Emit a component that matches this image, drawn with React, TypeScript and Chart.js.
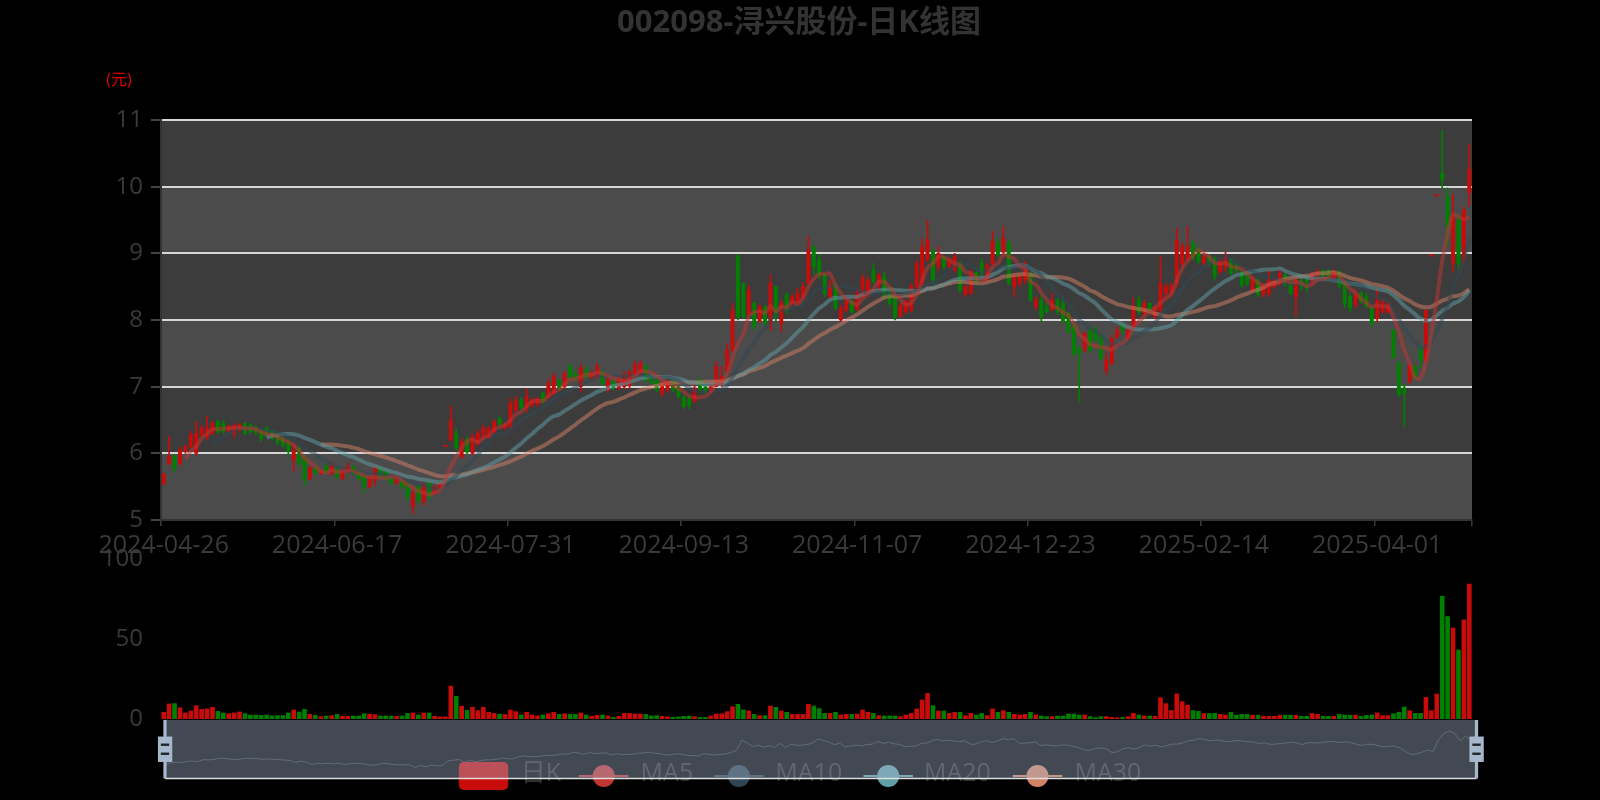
import React, { useEffect, useRef } from "react";
import { Chart, registerables } from "chart.js";

Chart.register(...registerables);

// ---------------- DATA ----------------
const dates: string[] = [
  "2024-04-26","2024-04-29","2024-04-30",
  "2024-05-06","2024-05-07","2024-05-08","2024-05-09","2024-05-10","2024-05-13","2024-05-14","2024-05-15","2024-05-16","2024-05-17",
  "2024-05-20","2024-05-21","2024-05-22","2024-05-23","2024-05-24","2024-05-27","2024-05-28","2024-05-29","2024-05-30","2024-05-31",
  "2024-06-03","2024-06-04","2024-06-05","2024-06-06","2024-06-07","2024-06-11","2024-06-12","2024-06-13","2024-06-14","2024-06-17",
  "2024-06-18","2024-06-19","2024-06-20","2024-06-21","2024-06-24","2024-06-25","2024-06-26","2024-06-27","2024-06-28",
  "2024-07-01","2024-07-02","2024-07-03","2024-07-04","2024-07-05","2024-07-08","2024-07-09","2024-07-10","2024-07-11","2024-07-12",
  "2024-07-15","2024-07-16","2024-07-17","2024-07-18","2024-07-19","2024-07-22","2024-07-23","2024-07-24","2024-07-25","2024-07-26",
  "2024-07-29","2024-07-30","2024-07-31",
  "2024-08-01","2024-08-02","2024-08-05","2024-08-06","2024-08-07","2024-08-08","2024-08-09","2024-08-12","2024-08-13","2024-08-14",
  "2024-08-15","2024-08-16","2024-08-19","2024-08-20","2024-08-21","2024-08-22","2024-08-23","2024-08-26","2024-08-27","2024-08-28",
  "2024-08-29","2024-08-30",
  "2024-09-02","2024-09-03","2024-09-04","2024-09-05","2024-09-06","2024-09-09","2024-09-10","2024-09-11","2024-09-12","2024-09-13",
  "2024-09-18","2024-09-19","2024-09-20","2024-09-23","2024-09-24","2024-09-25","2024-09-26","2024-09-27","2024-09-30",
  "2024-10-08","2024-10-09","2024-10-10","2024-10-11","2024-10-14","2024-10-15","2024-10-16","2024-10-17","2024-10-18","2024-10-21",
  "2024-10-22","2024-10-23","2024-10-24","2024-10-25","2024-10-28","2024-10-29","2024-10-30","2024-10-31",
  "2024-11-01","2024-11-04","2024-11-05","2024-11-06","2024-11-07","2024-11-08","2024-11-11","2024-11-12","2024-11-13","2024-11-14",
  "2024-11-15","2024-11-18","2024-11-19","2024-11-20","2024-11-21","2024-11-22","2024-11-25","2024-11-26","2024-11-27","2024-11-28",
  "2024-11-29",
  "2024-12-02","2024-12-03","2024-12-04","2024-12-05","2024-12-06","2024-12-09","2024-12-10","2024-12-11","2024-12-12","2024-12-13",
  "2024-12-16","2024-12-17","2024-12-18","2024-12-19","2024-12-20","2024-12-23","2024-12-24","2024-12-25","2024-12-26","2024-12-27",
  "2024-12-30","2024-12-31",
  "2025-01-02","2025-01-03","2025-01-06","2025-01-07","2025-01-08","2025-01-09","2025-01-10","2025-01-13","2025-01-14","2025-01-15",
  "2025-01-16","2025-01-17","2025-01-20","2025-01-21","2025-01-22","2025-01-23","2025-01-24","2025-01-27",
  "2025-02-05","2025-02-06","2025-02-07","2025-02-10","2025-02-11","2025-02-12","2025-02-13","2025-02-14","2025-02-17","2025-02-18",
  "2025-02-19","2025-02-20","2025-02-21","2025-02-24","2025-02-25","2025-02-26","2025-02-27","2025-02-28",
  "2025-03-03","2025-03-04","2025-03-05","2025-03-06","2025-03-07","2025-03-10","2025-03-11","2025-03-12","2025-03-13","2025-03-14",
  "2025-03-17","2025-03-18","2025-03-19","2025-03-20","2025-03-21","2025-03-24","2025-03-25","2025-03-26","2025-03-27","2025-03-28",
  "2025-03-31",
  "2025-04-01","2025-04-02","2025-04-03","2025-04-07","2025-04-08","2025-04-09","2025-04-10","2025-04-11","2025-04-14","2025-04-15",
  "2025-04-16","2025-04-17","2025-04-18","2025-04-21","2025-04-22","2025-04-23","2025-04-24","2025-04-25",
];

const opens: number[] = [
  5.55,5.84,5.96,5.85,6.03,6.10,6.00,6.28,6.25,6.30,
  6.48,6.45,6.33,6.30,6.38,6.45,6.43,6.40,6.33,6.38,
  6.34,6.26,6.23,6.15,5.90,6.08,5.92,5.62,5.78,5.70,
  5.80,5.70,5.78,5.62,5.72,5.80,5.72,5.65,5.50,5.60,
  5.78,5.72,5.62,5.55,5.58,5.55,5.20,5.50,5.28,5.55,
  5.40,5.48,6.10,6.20,6.30,5.95,6.20,6.00,6.15,6.25,
  6.25,6.32,6.52,6.38,6.40,6.65,6.80,6.68,6.72,6.74,
  6.90,6.85,6.90,7.10,7.00,7.30,7.20,7.00,7.25,7.12,
  7.15,7.22,6.95,7.08,6.98,7.00,7.02,7.18,7.20,7.30,
  7.15,7.10,6.90,6.95,7.08,7.00,6.85,6.82,6.78,7.10,
  7.00,6.92,7.00,7.05,7.25,7.55,8.95,8.55,8.08,8.25,
  7.98,8.20,7.95,8.50,7.95,8.38,8.25,8.25,8.35,8.55,
  9.10,8.90,8.68,8.35,8.52,8.00,8.15,8.28,8.15,8.35,
  8.40,8.75,8.52,8.65,8.45,8.35,8.05,8.12,8.15,8.50,
  8.55,8.90,9.05,8.80,8.95,8.80,8.75,8.85,8.38,8.40,
  8.72,8.85,8.60,8.85,9.15,9.02,9.15,8.50,8.55,8.60,
  8.70,8.20,8.30,8.20,8.15,8.30,8.25,8.10,7.90,7.58,
  7.55,7.85,7.85,7.75,7.25,7.35,7.75,7.92,7.72,7.90,
  8.30,8.10,8.25,8.05,8.15,8.40,8.40,8.55,8.85,8.92,
  9.15,9.05,8.85,8.95,8.92,8.72,8.80,8.90,8.82,8.72,
  8.70,8.45,8.60,8.38,8.40,8.50,8.55,8.68,8.55,8.35,
  8.60,8.60,8.55,8.68,8.74,8.74,8.62,8.72,8.58,8.35,
  8.22,8.40,8.35,8.18,8.02,8.12,8.12,7.85,7.36,6.98,
  7.08,7.30,7.58,7.40,8.96,9.86,10.20,9.85,8.85,9.50,
  8.90,9.91,
];

const closes: number[] = [
  5.69,5.95,5.78,6.05,6.10,6.28,6.30,6.38,6.38,6.45,
  6.32,6.33,6.40,6.42,6.44,6.30,6.32,6.32,6.22,6.28,
  6.25,6.16,6.12,6.03,6.05,5.85,5.62,5.78,5.70,5.73,
  5.72,5.82,5.65,5.72,5.79,5.70,5.62,5.50,5.62,5.78,
  5.65,5.62,5.55,5.62,5.50,5.35,5.40,5.30,5.50,5.35,
  5.50,5.55,6.10,6.50,6.08,6.18,6.02,6.25,6.30,6.38,
  6.38,6.48,6.44,6.44,6.75,6.80,6.68,6.85,6.80,6.82,
  6.78,7.05,7.15,6.98,7.20,7.15,7.12,7.28,7.15,7.20,
  7.30,7.05,7.10,6.98,7.12,7.15,7.22,7.33,7.35,7.10,
  7.05,6.95,7.05,7.08,6.95,6.85,6.70,6.72,6.98,6.95,
  6.93,7.02,7.30,7.15,7.55,8.15,8.05,8.05,8.45,7.90,
  8.20,7.95,8.55,8.05,8.25,8.15,8.35,8.40,8.50,9.05,
  8.80,8.68,8.40,8.55,8.18,8.18,8.28,8.12,8.40,8.62,
  8.60,8.58,8.68,8.35,8.25,8.05,8.22,8.28,8.50,8.85,
  9.10,9.20,8.60,9.00,8.80,8.90,8.95,8.45,8.50,8.70,
  8.58,8.70,8.82,9.18,8.98,9.22,8.55,8.65,8.65,8.75,
  8.30,8.30,8.05,8.12,8.30,8.12,7.98,7.82,7.50,7.50,
  7.80,7.55,7.70,7.42,7.40,7.72,7.85,7.85,7.85,8.20,
  8.12,8.25,8.15,8.20,8.55,8.50,8.52,9.20,9.10,9.10,
  8.95,8.88,8.95,8.85,8.65,8.88,8.95,8.70,8.75,8.52,
  8.55,8.60,8.38,8.52,8.60,8.60,8.70,8.55,8.40,8.60,
  8.52,8.48,8.68,8.72,8.66,8.66,8.72,8.52,8.25,8.18,
  8.38,8.28,8.20,7.95,8.30,8.28,8.25,7.43,6.88,6.90,
  7.32,7.15,7.40,8.14,8.96,9.86,10.10,9.40,9.55,8.85,
  9.65,10.26,
];

const lows: number[] = [
  5.52,5.83,5.72,5.82,6.00,6.08,5.98,6.25,6.20,6.28,
  6.30,6.30,6.32,6.23,6.32,6.28,6.30,6.28,6.18,6.25,
  6.20,6.12,6.09,5.98,5.73,5.80,5.52,5.60,5.68,5.68,
  5.70,5.67,5.62,5.60,5.71,5.68,5.60,5.40,5.48,5.52,
  5.62,5.60,5.54,5.54,5.47,5.30,5.10,5.25,5.22,5.30,
  5.38,5.46,6.10,6.18,6.05,5.92,6.00,5.98,6.12,6.20,
  6.22,6.30,6.42,6.35,6.37,6.62,6.65,6.62,6.70,6.70,
  6.75,6.82,6.88,6.95,6.98,7.10,7.10,6.92,7.12,7.10,
  7.12,7.02,6.92,6.95,6.95,6.97,6.97,7.17,7.17,7.08,
  7.05,6.92,6.85,6.92,6.92,6.82,6.67,6.67,6.77,6.90,
  6.90,6.90,7.00,7.00,7.22,7.53,8.00,8.03,8.08,7.85,
  7.98,7.90,7.85,7.98,7.83,8.10,8.22,8.22,8.30,8.53,
  8.68,8.62,8.35,8.32,8.15,7.98,8.12,8.10,8.15,8.32,
  8.35,8.55,8.45,8.32,8.20,8.00,8.05,8.10,8.12,8.48,
  8.52,8.88,8.55,8.75,8.75,8.78,8.72,8.42,8.35,8.38,
  8.55,8.65,8.58,8.82,8.95,9.00,8.52,8.35,8.50,8.55,
  8.28,8.15,7.97,8.10,8.15,8.08,7.95,7.80,7.45,6.76,
  7.52,7.52,7.68,7.40,7.18,7.32,7.72,7.80,7.70,7.88,
  8.08,8.08,8.12,8.02,8.12,8.30,8.35,8.50,8.80,8.88,
  8.90,8.85,8.82,8.80,8.60,8.70,8.73,8.68,8.72,8.50,
  8.52,8.42,8.35,8.35,8.35,8.48,8.52,8.50,8.38,8.06,
  8.45,8.42,8.52,8.65,8.63,8.64,8.60,8.47,8.18,8.12,
  8.18,8.25,8.18,7.90,7.98,8.10,8.10,7.43,6.85,6.40,
  7.05,7.10,7.28,7.36,8.96,9.86,9.98,9.11,8.73,8.76,
  8.86,9.71,
];

const highs: number[] = [
  5.70,6.25,5.98,6.09,6.13,6.33,6.48,6.42,6.55,6.48,
  6.50,6.49,6.43,6.43,6.45,6.46,6.45,6.41,6.35,6.40,
  6.35,6.28,6.25,6.20,6.15,6.10,5.95,5.80,5.80,5.75,
  5.87,5.86,5.80,5.78,5.85,5.82,5.75,5.68,5.65,5.80,
  5.80,5.75,5.63,5.63,5.60,5.58,5.45,5.52,5.55,5.58,
  5.52,5.56,6.10,6.71,6.38,6.22,6.25,6.30,6.35,6.43,
  6.40,6.50,6.56,6.46,6.82,6.85,6.83,6.97,6.83,6.84,
  6.92,7.10,7.20,7.10,7.23,7.35,7.25,7.33,7.30,7.23,
  7.35,7.25,7.13,7.10,7.15,7.23,7.25,7.38,7.39,7.33,
  7.20,7.18,7.07,7.10,7.10,7.00,6.87,6.85,7.02,7.13,
  7.02,7.05,7.38,7.30,7.65,8.25,8.98,8.56,8.52,8.27,
  8.23,8.22,8.68,8.51,8.30,8.41,8.38,8.48,8.56,9.26,
  9.11,8.98,8.70,8.60,8.55,8.22,8.32,8.30,8.46,8.68,
  8.65,8.85,8.70,8.72,8.50,8.38,8.25,8.30,8.55,8.90,
  9.22,9.50,9.05,9.10,8.95,8.92,9.00,8.88,8.52,8.75,
  8.72,8.92,8.85,9.33,9.23,9.40,9.20,8.70,8.70,8.88,
  8.72,8.35,8.38,8.25,8.40,8.33,8.33,8.12,7.95,7.60,
  7.82,7.88,7.90,7.78,7.50,7.77,7.90,7.95,7.90,8.33,
  8.35,8.30,8.25,8.22,8.95,8.55,8.55,9.37,9.16,9.40,
  9.19,9.08,9.00,8.98,8.95,8.92,9.02,8.92,8.85,8.75,
  8.72,8.65,8.62,8.55,8.75,8.62,8.75,8.70,8.58,8.62,
  8.63,8.62,8.72,8.76,8.76,8.76,8.75,8.75,8.60,8.40,
  8.46,8.43,8.40,8.20,8.46,8.32,8.28,7.86,7.38,7.03,
  7.33,7.32,7.60,8.16,8.96,9.86,10.85,9.98,9.88,9.58,
  9.69,10.64,
];

const volumes: number[] = [
  4.2,9.4,9.6,7.0,3.8,5.0,8.3,6.0,6.3,7.3,
  4.8,3.8,3.3,3.8,4.4,3.3,2.5,2.5,2.3,2.5,
  1.9,2.1,2.1,3.8,5.6,4.4,6.0,3.0,2.3,1.5,
  1.9,2.1,2.9,1.7,1.7,1.9,1.9,3.3,3.1,2.7,
  1.9,1.9,1.9,1.7,1.9,3.5,3.8,2.5,3.8,3.8,
  1.7,1.3,1.3,20.6,14.2,8.0,5.4,7.3,5.2,7.3,
  4.2,3.5,3.0,2.8,5.6,4.6,2.5,4.2,2.5,1.9,
  2.5,3.3,4.2,2.9,3.3,2.9,2.9,3.8,2.5,1.7,
  2.3,2.5,1.9,1.0,1.7,3.5,3.5,3.1,3.1,2.9,
  1.9,2.1,1.7,1.3,1.0,1.3,1.7,1.9,1.5,1.0,
  1.0,1.9,3.1,3.3,4.6,7.7,9.2,5.6,5.0,2.9,
  2.1,2.1,8.1,7.3,5.0,4.2,2.9,2.9,2.9,9.2,
  8.1,6.5,3.5,3.5,4.2,2.5,2.9,2.9,3.1,5.6,
  4.2,3.5,2.1,1.9,1.9,1.9,1.5,2.5,3.5,6.3,
  11.9,16.0,8.3,5.0,5.0,3.5,4.2,4.2,2.1,3.5,
  2.5,3.5,2.1,6.3,4.2,5.2,4.2,2.9,2.5,2.9,
  4.2,2.5,1.9,1.5,1.5,1.9,1.9,3.1,3.1,2.5,
  2.5,1.5,0.8,1.5,1.5,1.0,0.8,1.0,1.5,3.5,
  2.5,1.9,1.9,1.7,13.3,9.6,5.3,15.7,10.8,8.7,
  5.3,4.8,3.4,3.4,3.6,2.9,2.4,4.1,2.4,2.9,
  2.9,2.4,2.4,1.7,1.7,1.7,2.4,2.4,2.4,2.4,
  1.7,1.7,3.4,2.9,1.7,1.7,1.7,2.9,2.4,2.4,
  2.4,1.7,2.2,2.5,3.8,2.1,2.1,3.3,4.2,7.5,
  5.2,3.5,3.5,13.5,5.2,15.6,76.7,64.0,56.9,43.1,
  61.9,84.4,
];

const priceTicks: number[] = [5, 6, 7, 8, 9, 10, 11];
const volumeTicks: number[] = [0, 50, 100];
const maPeriods: number[] = [5, 10, 20, 30];
const maLabels: string[] = ["MA5", "MA10", "MA20", "MA30"];
const candleLabel = "日K";
const titleText = "002098-浔兴股份-日K线图";
const unitText = "(元)";
const labelEvery = 32;

// ---------------- STYLE ----------------
const FONT = '"Open Sans", "Noto Sans CJK SC", sans-serif';
const UP = "rgb(200,12,10)";
const DOWN = "rgb(0,128,0)";
const MA_COLORS = ["194,53,49", "47,69,84", "97,160,168", "212,130,101"];
const LABEL_COLOR = "#3a3a3a";

function movingAverage(period: number): (number | null)[] {
  return closes.map((_, i) => {
    if (i < period - 1) return null;
    let s = 0;
    for (let k = i - period + 1; k <= i; k++) s += closes[k];
    return +(s / period).toFixed(3);
  });
}

const candleColors = opens.map((o, i) => (closes[i] >= o ? UP : DOWN));

const mainPlugin = {
  id: "mainDecor",
  beforeDraw(chart: any) {
    const { ctx, chartArea, scales } = chart;
    ctx.save();
    ctx.fillStyle = "#000";
    ctx.fillRect(0, 0, chart.width, chart.height);
    const y = scales.y;
    for (let k = 0; k < priceTicks.length - 1; k++) {
      const top = y.getPixelForValue(priceTicks[k + 1]);
      const bottom = y.getPixelForValue(priceTicks[k]);
      ctx.fillStyle = k % 2 === 0 ? "rgb(75,75,75)" : "rgb(60,60,60)";
      ctx.fillRect(chartArea.left, top, chartArea.right - chartArea.left, bottom - top);
    }
    ctx.restore();
  },
  afterDraw(chart: any) {
    const { ctx } = chart;
    ctx.save();
    ctx.font = `bold 31px ${FONT}`;
    ctx.fillStyle = "#333";
    ctx.textAlign = "center";
    ctx.textBaseline = "middle";
    ctx.fillText(titleText, 799, 23);
    ctx.font = `16px ${FONT}`;
    ctx.fillStyle = "#e00000";
    ctx.fillText(unitText, 119, 80);
    ctx.restore();
  },
};

const SL = { left: 165, right: 1476.5, top: 720, bottom: 778.5 };

function drawHandle(ctx: CanvasRenderingContext2D, cx: number) {
  const s = (SL.bottom - SL.top) / 34.3;
  ctx.fillStyle = "#a7b7cc";
  ctx.fillRect(cx - 0.95 * s, SL.top, 1.9 * s, SL.bottom - SL.top);
  ctx.fillRect(cx - 4.15 * s, SL.top + 9.7 * s, 8.4 * s, 14.9 * s);
  ctx.fillStyle = "#22262c";
  ctx.fillRect(cx - 2.45 * s, SL.top + 13.8 * s, 4.9 * s, 1.4 * s);
  ctx.fillRect(cx - 2.45 * s, SL.top + 19.1 * s, 4.9 * s, 1.4 * s);
}

const legendIconX = [458.8, 579, 714.2, 863.5, 1012.8];
const legendTextX = [520.8, 640.6, 775.3, 924, 1074.4];

const sliderPlugin = {
  id: "sliderDecor",
  beforeDraw(chart: any) {
    const ctx: CanvasRenderingContext2D = chart.ctx;
    ctx.save();
    const cy = 776;
    ctx.fillStyle = UP;
    ctx.beginPath();
    (ctx as any).roundRect(legendIconX[0], cy - 14, 49.4, 28, 5);
    ctx.fill();
    maLabels.forEach((_, k) => {
      const x0 = legendIconX[k + 1];
      ctx.strokeStyle = `rgb(${MA_COLORS[k]})`;
      ctx.lineWidth = 2;
      ctx.beginPath();
      ctx.moveTo(x0, cy);
      ctx.lineTo(x0 + 49.4, cy);
      ctx.stroke();
      ctx.fillStyle = `rgb(${MA_COLORS[k]})`;
      ctx.beginPath();
      ctx.arc(x0 + 24.7, cy, 11, 0, Math.PI * 2);
      ctx.fill();
    });
    ctx.font = `25px ${FONT}`;
    ctx.fillStyle = "#333";
    ctx.textAlign = "left";
    ctx.textBaseline = "middle";
    [candleLabel, ...maLabels].forEach((t, k) => ctx.fillText(t, legendTextX[k], 774));
    ctx.restore();
  },
  beforeDatasetsDraw(chart: any) {
    const ctx: CanvasRenderingContext2D = chart.ctx;
    ctx.save();
    ctx.fillStyle = "rgba(167,183,204,0.4)";
    ctx.fillRect(SL.left, SL.top, SL.right - SL.left, SL.bottom - SL.top);
    ctx.restore();
  },
  afterDraw(chart: any) {
    const ctx: CanvasRenderingContext2D = chart.ctx;
    ctx.save();
    ctx.strokeStyle = "#ddd";
    ctx.lineWidth = 1.5;
    ctx.beginPath();
    ctx.moveTo(SL.left, SL.bottom);
    ctx.lineTo(SL.right, SL.bottom);
    ctx.stroke();
    drawHandle(ctx, SL.left);
    drawHandle(ctx, SL.right);
    ctx.restore();
  },
};

function mainConfig(): any {
  return {
    type: "bar",
    data: {
      labels: dates,
      datasets: [
        {
          type: "bar",
          label: "wick",
          data: lows.map((l, i) => [l, highs[i]]),
          backgroundColor: candleColors,
          barThickness: 1,
          minBarLength: 1,
          grouped: false,
          order: 3,
        },
        {
          type: "bar",
          label: candleLabel,
          data: opens.map((o, i) => [o, closes[i]]),
          backgroundColor: candleColors,
          barThickness: 3.2,
          minBarLength: 1.6,
          grouped: false,
          order: 2,
        },
        ...maPeriods.map((p, k) => ({
          type: "line",
          label: maLabels[k],
          data: movingAverage(p),
          borderColor: `rgba(${MA_COLORS[k]},0.5)`,
          borderWidth: 4,
          pointRadius: 0,
          tension: 0.4,
          fill: false,
          order: 0,
        })),
      ],
    },
    options: {
      responsive: false,
      animation: false,
      events: [],
      layout: { padding: { left: 0, right: 128, top: 120, bottom: 0 } },
      plugins: { legend: { display: false }, tooltip: { enabled: false }, title: { display: false } },
      scales: {
        x: {
          type: "category",
          offset: true,
          grid: {
            offset: true,
            drawOnChartArea: false,
            drawTicks: true,
            tickLength: 6,
            lineWidth: 1.5,
            color: (ctx: any) =>
              ctx.index === undefined || ctx.index % labelEvery === 0 ? "#3a3a3a" : "rgba(0,0,0,0)",
          },
          border: { display: true, color: "#333", width: 2 },
          ticks: {
            autoSkip: false,
            maxRotation: 0,
            minRotation: 0,
            padding: 5,
            color: LABEL_COLOR,
            font: { family: FONT, size: 25 },
            callback: (_v: any, i: number) => (i % labelEvery === 0 ? dates[i] : ""),
          },
          afterFit: (s: any) => {
            s.height = 280;
          },
        },
        y: {
          min: priceTicks[0],
          max: priceTicks[priceTicks.length - 1],
          afterBuildTicks: (s: any) => {
            s.ticks = priceTicks.map((v) => ({ value: v }));
          },
          grid: {
            drawOnChartArea: true,
            lineWidth: 2,
            tickLength: 10,
            color: (ctx: any) => (ctx.tick && ctx.tick.value === priceTicks[0] ? "rgba(0,0,0,0)" : "#d6d6d6"),
            tickColor: "#444",
          },
          border: { display: true, color: "#333", width: 2 },
          ticks: { padding: 8, color: LABEL_COLOR, font: { family: FONT, size: 24 } },
          afterFit: (s: any) => {
            s.width = 161;
          },
        },
      },
    },
    plugins: [mainPlugin],
  };
}

function volumeConfig(): any {
  return {
    type: "bar",
    data: {
      labels: dates,
      datasets: [
        {
          label: "成交量",
          data: volumes,
          backgroundColor: candleColors,
          barThickness: 4,
          borderWidth: 0,
        },
      ],
    },
    options: {
      responsive: false,
      animation: false,
      events: [],
      layout: { padding: { left: 0, right: 128, top: 559, bottom: 81 } },
      plugins: { legend: { display: false }, tooltip: { enabled: false } },
      scales: {
        x: { display: false, offset: true },
        y: {
          min: volumeTicks[0],
          max: volumeTicks[volumeTicks.length - 1],
          afterBuildTicks: (s: any) => {
            s.ticks = volumeTicks.map((v) => ({ value: v }));
          },
          grid: { display: false, drawTicks: false },
          border: { display: false },
          ticks: { padding: 18, color: LABEL_COLOR, font: { family: FONT, size: 24 } },
          afterFit: (s: any) => {
            s.width = 161;
          },
        },
      },
    },
  };
}

function sliderConfig(): any {
  const lo = Math.min(...opens);
  const hi = Math.max(...opens);
  const pad = (hi - lo) * 0.3;
  return {
    type: "line",
    data: {
      labels: dates,
      datasets: [
        {
          label: "shadow",
          data: opens,
          borderColor: "rgba(100,108,122,1)",
          borderWidth: 1,
          pointRadius: 0,
          tension: 0,
          fill: false,
        },
      ],
    },
    options: {
      responsive: false,
      animation: false,
      events: [],
      layout: {
        padding: { left: SL.left, right: 1600 - SL.right, top: SL.top, bottom: 800 - SL.bottom },
      },
      plugins: { legend: { display: false }, tooltip: { enabled: false } },
      scales: {
        x: { display: false, offset: false },
        y: { display: false, min: lo - pad, max: hi + pad },
      },
    },
    plugins: [sliderPlugin],
  };
}

export default function App() {
  const mainRef = useRef<HTMLCanvasElement>(null);
  const volRef = useRef<HTMLCanvasElement>(null);
  const sliderRef = useRef<HTMLCanvasElement>(null);

  useEffect(() => {
    document.body.style.margin = "0";
    document.body.style.background = "#000";
    document.body.style.overflow = "hidden";
    const charts = [
      new Chart(mainRef.current as HTMLCanvasElement, mainConfig()),
      new Chart(volRef.current as HTMLCanvasElement, volumeConfig()),
      new Chart(sliderRef.current as HTMLCanvasElement, sliderConfig()),
    ];
    return () => charts.forEach((c) => c.destroy());
  }, []);

  const layer: React.CSSProperties = { position: "absolute", left: 0, top: 0 };
  return (
    <div style={{ position: "relative", width: 1600, height: 800, background: "#000", overflow: "hidden" }}>
      <canvas ref={mainRef} width={1600} height={800} style={layer} />
      <canvas ref={volRef} width={1600} height={800} style={layer} />
      <canvas ref={sliderRef} width={1600} height={800} style={layer} />
    </div>
  );
}
